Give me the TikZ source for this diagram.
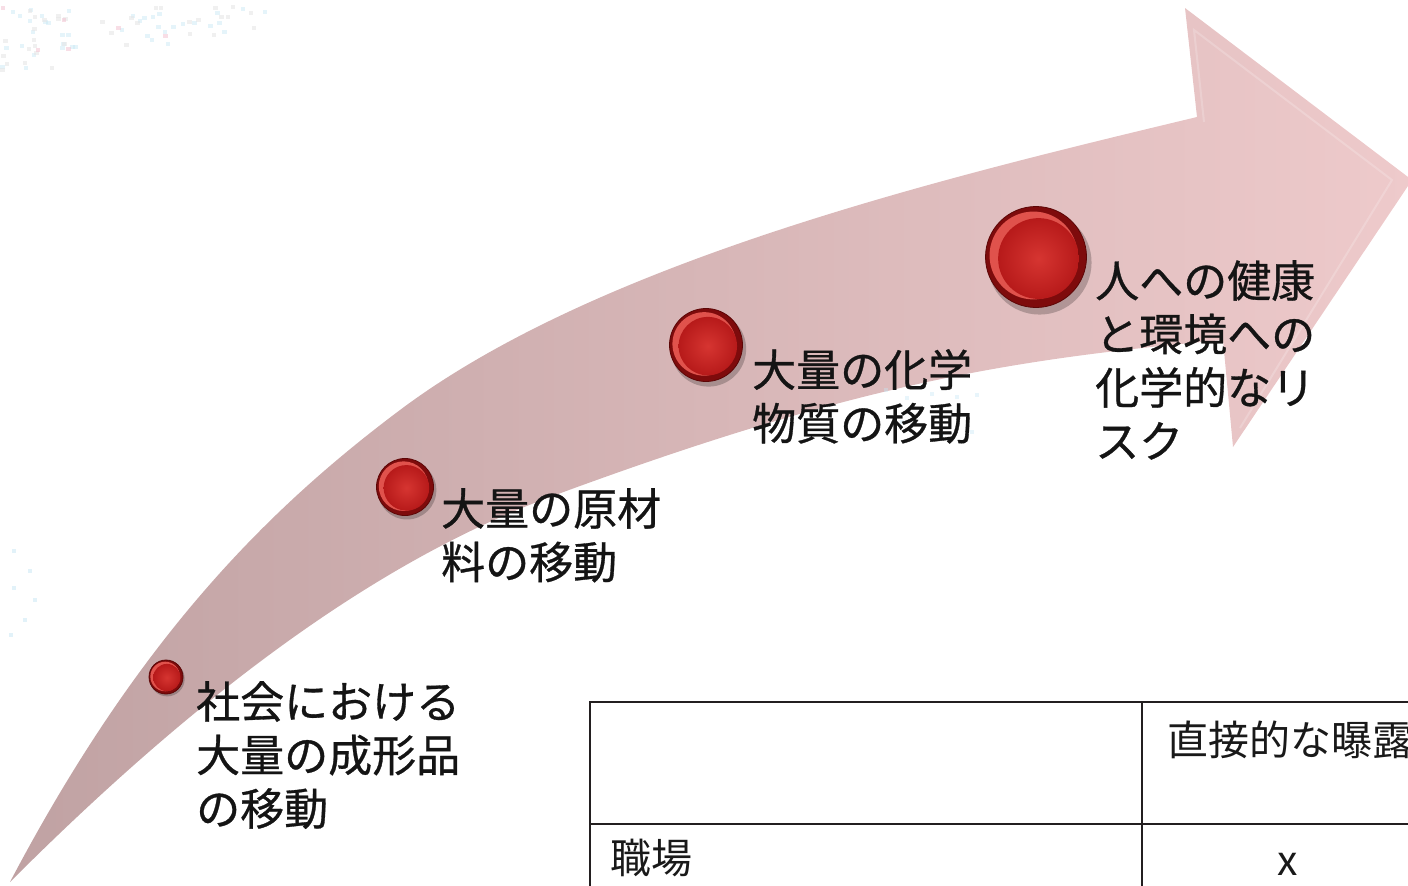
\documentclass[tikz,border=0pt]{standalone}
\usepackage{fontspec}
\newfontfamily\jp{Noto Sans CJK JP}
\newfontfamily\jpb[FakeBold=0.7]{Noto Sans CJK JP}
\definecolor{arrL}{HTML}{C0A2A3}
\definecolor{arrR}{HTML}{EECACB}
\definecolor{ballrim}{HTML}{7E0B0C}
\definecolor{ballhi}{HTML}{E0524C}
\definecolor{ballA}{HTML}{D63531}
\definecolor{ballB}{HTML}{B71A1A}
\definecolor{ballline}{HTML}{5C0606}
\definecolor{dotblue}{HTML}{C6E6F4}
\definecolor{dotpink}{HTML}{F3C3D2}
\definecolor{dotgray}{HTML}{E6E6E6}
\definecolor{tblline}{HTML}{231F20}
\tikzset{
  lbl/.style={anchor=north west, align=left, inner sep=0pt, text=black!92,
    font=\jpb\fontsize{44}{53.5}\selectfont},
  tbltxt/.style={anchor=north west, inner sep=0pt, text=black!90,
    font=\jp\fontsize{41}{48}\selectfont},
  tblrule/.style={draw=tblline, line width=2.6pt}
}
\newcommand{\redball}[2]{%
  \begin{scope}[shift={(#1)}]
    \fill[black, opacity=.22] ({0.07*#2},{0.11*#2}) circle ({1.03*#2 pt});
    \fill[ballrim] (0,0) circle ({#2 pt});
    \fill[ballhi] ({-0.05*#2},{-0.03*#2}) circle ({0.87*#2 pt});
    \shade[inner color=ballA, outer color=ballB] ({0.05*#2},{0.03*#2}) circle ({0.80*#2 pt});
    \draw[ballline, line width=0.8pt] (0,0) circle ({#2 pt});
  \end{scope}}
\begin{document}
\begin{tikzpicture}[x=1pt,y=-1pt]
\useasboundingbox (0,0) rectangle (1408,886);
\begin{scope}
\clip (0,0) rectangle (1408,886);
% faint background dots
\pgfmathsetseed{11}
\foreach \i in {1,...,40}{
  \pgfmathsetmacro\px{pow(rnd,1.3)*285}
  \pgfmathsetmacro\py{5+rnd*(72-0.2*\px)}
  \fill[dotblue, opacity=.45] (\px,\py) rectangle ++(4.5,4);
}
\foreach \i in {1,...,35}{
  \pgfmathsetmacro\px{pow(rnd,1.3)*260}
  \pgfmathsetmacro\py{5+rnd*(72-0.2*\px)}
  \fill[dotgray, opacity=.6] (\px,\py) rectangle ++(4.5,4);
}
\foreach \i in {1,...,6}{
  \pgfmathsetmacro\px{pow(rnd,1.3)*220}
  \pgfmathsetmacro\py{5+rnd*(68-0.2*\px)}
  \fill[dotpink, opacity=.55] (\px,\py) rectangle ++(4.5,4);
}
\foreach \p in {(12,549),(28,569),(12,586),(33,598),(23,618),(9,633)}
  \fill[dotblue, opacity=.5] \p rectangle ++(4,3.5);

% the big curved arrow
\shade[left color=arrL, right color=arrR]
  (10,882) .. controls (140,635) and (270,507.5) .. (400,410)
           .. controls (600,260) and (947,177) .. (1197,117)
  -- (1185,8) -- (1412,180) -- (1233,447) -- (1223,340)
  .. controls (1003,359.8) and (850,386) .. (550,497)
  .. controls (370,563.6) and (190,702) .. (10,882)
  -- cycle;
% bevel of the arrow head
\draw[white, opacity=.2, line width=2pt] (1204,122) -- (1194,30) -- (1392,180) -- (1240,428);

\foreach \p in {(884,388),(905,396),(930,392),(955,395),(975,393),(900,420),(940,432),(970,430)}
  \fill[dotblue, opacity=.4] \p rectangle ++(4,3.5);

% balls
\coordinate (b1) at (166,677);
\coordinate (b2) at (405,487);
\coordinate (b3) at (706,345);
\coordinate (b4) at (1036,257);
\redball{b1}{17}
\redball{b2}{28.5}
\redball{b3}{36.5}
\redball{b4}{50.5}

% labels
\node[lbl] (t1) at (196,681) {社会における\\大量の成形品\\の移動};
\node[lbl] (t2) at (441,488) {大量の原材\\料の移動};
\node[lbl] (t3) at (752,349) {大量の化学\\物質の移動};
\node[lbl] (t4) at (1095,260) {人への健康\\と環境への\\化学的なリ\\スク};

% table
\coordinate (tl) at (590,702);
\coordinate (tr) at (1420,702);
\coordinate (bl) at (590,900);
\coordinate (mt) at (1142,702);
\coordinate (mb) at (1142,900);
\coordinate (ml) at (590,824);
\coordinate (mr) at (1420,824);
\draw[tblrule] (tr) -- (tl) -- (bl);
\draw[tblrule] (mt) -- (mb);
\draw[tblrule] (ml) -- (mr);
\node[tbltxt] (h1) at (1167,721) {直接的な曝露};
\node[tbltxt] (r1) at (610,839) {職場};
\node[tbltxt, anchor=base] (x1) at (1288,875) {x};
\end{scope}
\end{tikzpicture}
\end{document}
